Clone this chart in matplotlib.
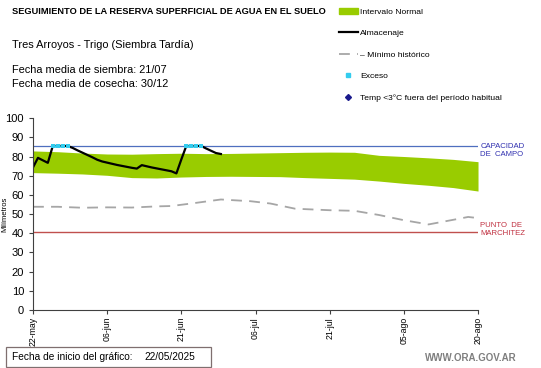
import numpy as np
import matplotlib.pyplot as plt
from matplotlib.lines import Line2D
from matplotlib.patches import Patch, Rectangle

plt.rcParams['font.family'] = ['Liberation Sans', 'DejaVu Sans']

# dias desde 22/05/2025
dias_alm = list(range(0, 39))
almacenaje = [74.3, 79.3, 78.0, 76.7, 85.5, 85.5, 85.5, 85.5, 84.5, 83.2,
              82.0, 80.8, 79.6, 78.3, 77.4, 76.8, 76.2, 75.6, 75.1, 74.6,
              74.1, 73.7, 75.5, 74.9, 74.3, 73.8, 73.3, 72.8, 72.3, 71.2,
              78.5, 85.5, 85.5, 85.5, 85.5, 84.2, 83.0, 81.8, 81.3]
dias_exceso = [4, 5, 6, 7, 31, 32, 33, 34]
exceso = [85.5, 85.5, 85.5, 85.5, 85.5, 85.5, 85.5, 85.5]

dias_banda = [0, 5, 10, 15, 20, 25, 30, 35, 40, 45, 50, 55, 60, 65, 70, 75, 80, 85, 90]
banda_sup = [82.9, 82.5, 81.8, 81.3, 81.2, 81.5, 81.7, 81.5, 81.6, 81.8,
             82.0, 82.2, 82.3, 82.2, 80.6, 80.0, 79.3, 78.5, 77.3]
banda_inf = [71.6, 71.3, 70.9, 70.2, 69.0, 68.8, 69.3, 69.6, 69.7, 69.6,
             69.5, 69.0, 68.6, 68.2, 67.2, 66.0, 65.0, 63.8, 62.0]

dias_min = [0, 5, 10, 15, 20, 25, 28, 32, 38, 44, 48, 53, 60, 65, 70, 75, 80, 86, 88, 90]
minimo = [53.8, 53.8, 53.3, 53.5, 53.4, 54.0, 54.2, 55.5, 57.6, 56.7,
          55.5, 52.8, 52.0, 51.7, 49.5, 46.8, 44.6, 47.5, 48.5, 47.9]

capacidad = 85.5
marchitez = 40.5

tick_dias = [0, 15, 30, 45, 60, 75, 90]
tick_labels = ["22-may", "06-jun", "21-jun", "06-jul", "21-jul", "05-ago", "20-ago"]

fig = plt.figure(figsize=(5.41, 3.68), dpi=100)
ax = fig.add_axes([0.061, 0.1576, 0.8226, 0.5214])

ax.fill_between(dias_banda, banda_inf, banda_sup, color="#99CC00", lw=0)
ax.axhline(capacidad, color="#4F6FBF", lw=0.9)
ax.axhline(marchitez, color="#C0504D", lw=1.0)
ax.plot(dias_min, minimo, color="#A6A6A6", lw=1.3, dashes=(6, 4))
ax.plot(dias_alm, almacenaje, color="black", lw=1.6)
ax.plot(dias_exceso[:4], exceso[:4], color="#33CCEE", lw=1.8, ls=(0, (1.5, 1.2)),
        marker="s", ms=2.6, mew=0)
ax.plot(dias_exceso[4:], exceso[4:], color="#33CCEE", lw=1.8, ls=(0, (1.5, 1.2)),
        marker="s", ms=2.6, mew=0)

ax.set_xlim(0, 90)
ax.set_ylim(0, 100)
ax.set_yticks(range(0, 101, 10))
ax.set_xticks(tick_dias)
ax.set_xticklabels(tick_labels, rotation=90, fontsize=6.3)
ax.tick_params(axis="y", labelsize=8, length=3, color="#404040")
ax.tick_params(axis="x", length=3, color="#404040", pad=2)
for s in ["top", "right"]:
    ax.spines[s].set_visible(False)
ax.spines["left"].set_color("#404040")
ax.spines["bottom"].set_color("#404040")
ax.set_ylabel("Milímetros", fontsize=5.5)
ax.yaxis.set_label_coords(-0.056, 0.5)

ax.text(1.005, 83.0, "CAPACIDAD\nDE  CAMPO", transform=ax.get_yaxis_transform(),
        color="#3030B0", fontsize=5.6, va="center", ha="left", linespacing=1.2)
ax.text(1.005, 41.7, "PUNTO  DE\nMARCHITEZ", transform=ax.get_yaxis_transform(),
        color="#C03040", fontsize=5.6, va="center", ha="left", linespacing=1.2)

fig.text(12 / 541, 1 - 12 / 368, "SEGUIMIENTO DE LA RESERVA SUPERFICIAL DE AGUA EN EL SUELO",
         fontsize=6.7, fontweight="bold", va="center")
fig.text(12 / 541, 1 - 45 / 368, "Tres Arroyos - Trigo (Siembra Tardía)", fontsize=7.9, va="center")
fig.text(12 / 541, 1 - 70 / 368, "Fecha media de siembra: 21/07", fontsize=7.9, va="center")
fig.text(12 / 541, 1 - 84 / 368, "Fecha media de cosecha: 30/12", fontsize=7.9, va="center")

handles = [
    Patch(color="#99CC00"),
    Line2D([], [], color="black", lw=1.6),
    Line2D([], [], color="#A6A6A6", lw=1.3, dashes=(6, 4)),
    Line2D([], [], color="#33CCEE", ls="none", marker="s", ms=2.5),
    Line2D([], [], color="#1A1A8C", ls="none", marker="D", ms=3),
]
labels = ["Intervalo Normal", "Almacenaje", "– Mínimo histórico", "Exceso",
          "Temp <3°C fuera del período habitual"]
fig.legend(handles, labels, loc="upper left", bbox_to_anchor=(333 / 541, 1 - 2 / 368),
           frameon=False, fontsize=6.1, handlelength=2.2, handletextpad=0.3,
           labelspacing=1.6, borderaxespad=0.3)

fig.patches.append(Rectangle((6 / 541, 1 - 367 / 368), 205 / 541, 20 / 368,
                             transform=fig.transFigure, fill=False,
                             edgecolor="#7F6F6F", lw=0.9))
fig.text(12 / 541, 1 - 357 / 368, "Fecha de inicio del gráfico:", fontsize=7.3, va="center")
fig.text(144 / 541, 1 - 357 / 368, "22/05/2025", fontsize=7.3, va="center")
fig.text(517 / 541, 1 - 358 / 368, "WWW.ORA.GOV.AR", fontsize=7, fontweight="bold",
         color="#7F7F7F", ha="right", va="center")

fig.savefig("out.png", dpi=100)
